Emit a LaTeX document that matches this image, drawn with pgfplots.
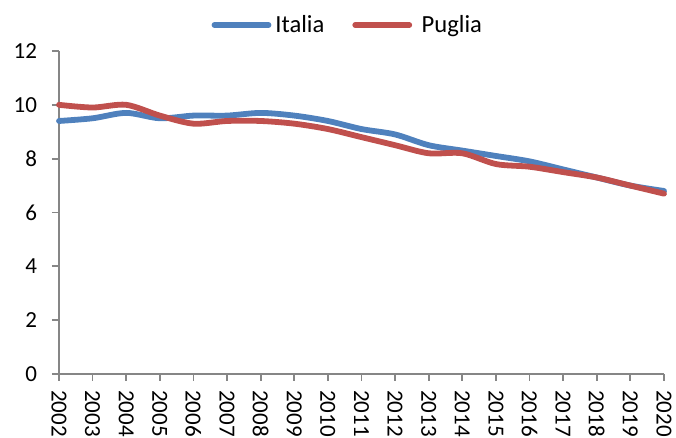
\documentclass[border=0pt]{standalone}
\usepackage{fontspec}
\setmainfont{Carlito}
\usepackage{pgfplots}
\pgfplotsset{compat=1.18}
\definecolor{xlblue}{RGB}{79,129,189}
\definecolor{xlred}{RGB}{192,80,77}
\definecolor{axgray}{RGB}{134,134,134}

\pgfplotstableread{
year italia puglia
2002 9.4 10.0
2003 9.5 9.9
2004 9.7 10.0
2005 9.5 9.6
2006 9.6 9.3
2007 9.6 9.4
2008 9.7 9.4
2009 9.6 9.3
2010 9.4 9.1
2011 9.1 8.8
2012 8.9 8.5
2013 8.5 8.2
2014 8.3 8.2
2015 8.1 7.8
2016 7.9 7.7
2017 7.6 7.5
2018 7.3 7.3
2019 7.0 7.0
2020 6.8 6.7
}\data

\begin{document}
\begin{tikzpicture}
\begin{axis}[scale only axis,width=302.5pt,height=161.5pt,
 xmin=2002,xmax=2020,ymin=0,ymax=12,
 xtick={2002,...,2020},ytick={0,2,...,12},
 axis x line*=bottom,axis y line*=left,
 axis line style={axgray,line width=0.9pt,-},
 tick style={axgray,line width=0.9pt},
 major tick length=3.5pt,tick align=outside,
 x tick label style={/pgf/number format/1000 sep={},rotate=-90,anchor=west},
 y tick label style={xshift=-4pt},
 /pgf/number format/assume math mode=true,
 tick label style={font=\fontsize{11.5}{13}\selectfont,black},
 xticklabel shift=1pt,
 legend style={draw=none,fill=none,at={(0.479,1.0)},anchor=center,yshift=13pt,
  font=\fontsize{12.3}{14}\selectfont,/tikz/every even column/.append style={column sep=12pt}},
 legend columns=2,
 legend image code/.code={\draw[#1,line cap=round] (0pt,0pt) -- (27pt,0pt);},
 clip=false]
\addplot[xlblue,line width=2.9pt,smooth,tension=0.5,line cap=round] table[x=year,y=italia]{\data};
\addplot[xlred,line width=2.9pt,smooth,tension=0.5,line cap=round] table[x=year,y=puglia]{\data};
\legend{Italia,\ Puglia}
\end{axis}
\pgfresetboundingbox
\path[use as bounding box] (-29.5pt,-32pt) rectangle (308.5pt,187pt);
\end{tikzpicture}
\end{document}
